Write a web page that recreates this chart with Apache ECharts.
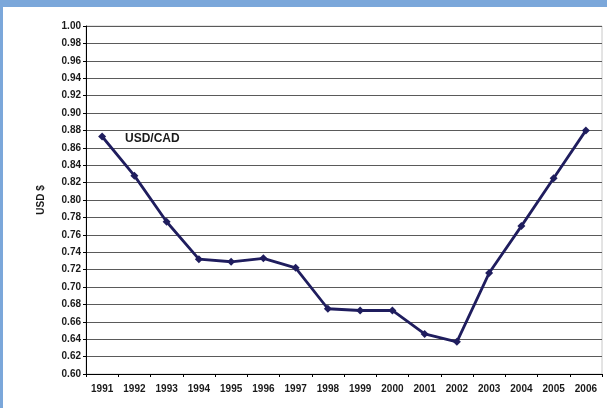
<!DOCTYPE html>
<html>
<head>
<meta charset="utf-8">
<script src="https://cdn.jsdelivr.net/npm/echarts@6/dist/echarts.min.js"></script>
<style>
html, body { margin: 0; padding: 0; background: #7ba7da; }
#main { position: absolute; left: 3px; top: 7px; width: 604px; height: 401px; background: #ffffff; }
</style>
</head>
<body>
<div id="main"></div>
<script>
// USD/CAD yearly rate
var years = ['1991', '1992', '1993', '1994', '1995', '1996', '1997', '1998',
             '1999', '2000', '2001', '2002', '2003', '2004', '2005', '2006'];
var usdCad = [0.873, 0.828, 0.775, 0.732, 0.729, 0.733, 0.722, 0.675,
              0.673, 0.673, 0.646, 0.637, 0.716, 0.770, 0.825, 0.880];

var myChart = echarts.init(document.getElementById('main'));

var option = {
    animation: false,
    title: {
        text: 'USD/CAD',
        left: 122,
        top: 126,
        padding: 0,
        textStyle: {
            fontFamily: 'Liberation Sans',
            fontSize: 12,
            fontWeight: 'bold',
            color: '#1a1a1a'
        }
    },
    grid: {
        left: 83,
        top: 19,
        right: 5,
        bottom: 34,
        show: true,
        borderColor: '#c8c8c8',
        borderWidth: 1
    },
    xAxis: {
        type: 'category',
        data: years,
        boundaryGap: true,
        axisLine: { lineStyle: { color: '#000', width: 1 } },
        axisTick: { show: true, length: 3, lineStyle: { color: '#000' } },
        axisLabel: {
            margin: 10,
            fontFamily: 'Liberation Sans',
            fontSize: 10,
            fontWeight: 'bold',
            color: '#1a1a1a'
        }
    },
    yAxis: {
        type: 'value',
        min: 0.6,
        max: 1.0,
        interval: 0.02,
        name: 'USD $',
        nameLocation: 'middle',
        nameGap: 40,
        nameTextStyle: {
            fontFamily: 'Liberation Sans',
            fontSize: 10,
            fontWeight: 'bold',
            color: '#1a1a1a'
        },
        axisLine: { show: true, lineStyle: { color: '#000', width: 1 } },
        axisTick: { show: true, length: 3, lineStyle: { color: '#000' } },
        splitLine: { lineStyle: { color: '#5a5a5a', width: 1 } },
        axisLabel: {
            margin: 5,
            fontFamily: 'Liberation Sans',
            fontSize: 10,
            fontWeight: 'bold',
            color: '#1a1a1a',
            formatter: function (v) { return v.toFixed(2); }
        }
    },
    series: [
        {
            type: 'line',
            data: usdCad,
            symbol: 'diamond',
            symbolSize: 8,
            lineStyle: { color: '#1f1d5e', width: 2.8 },
            itemStyle: { color: '#1f1d5e' }
        }
    ]
};

myChart.setOption(option);
</script>
</body>
</html>
